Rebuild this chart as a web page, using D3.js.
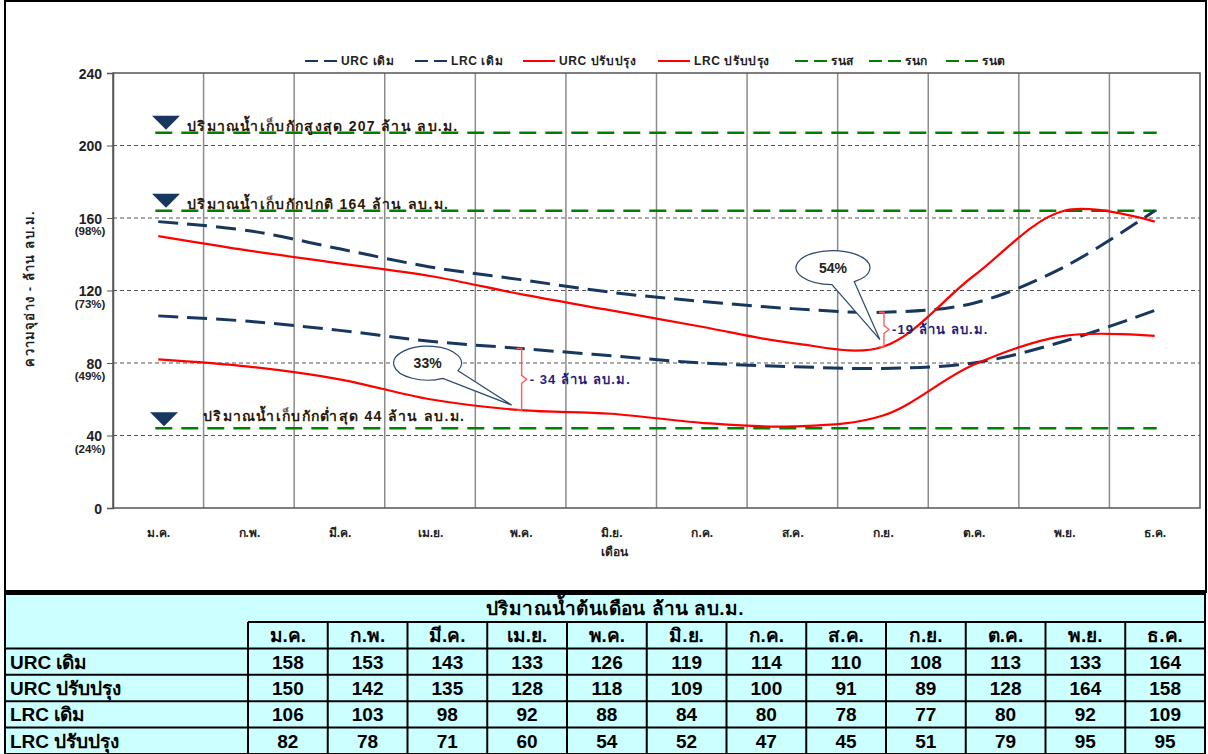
<!DOCTYPE html>
<html>
<head>
<meta charset="utf-8">
<script src="https://cdn.jsdelivr.net/npm/d3@7"></script>
<style>
  html, body { margin: 0; padding: 0; background: #fff; }
  svg { display: block; font-family: Tahoma, Arial, "Liberation Sans", sans-serif; }
</style>
</head>
<body>
<svg id="chart" width="1208" height="754"></svg>
<script>
// Monthly reservoir rule curves (million m³)
const months = ["ม.ค.", "ก.พ.", "มี.ค.", "เม.ย.", "พ.ค.", "มิ.ย.", "ก.ค.", "ส.ค.", "ก.ย.", "ต.ค.", "พ.ย.", "ธ.ค."];
const urcOld = [158, 153, 143, 133, 126, 119, 114, 110, 108, 113, 133, 164];
const urcNew = [150, 142, 135, 128, 118, 109, 100, 91, 89, 128, 164, 158];
const lrcOld = [106, 103, 98, 92, 88, 84, 80, 78, 77, 80, 92, 109];
const lrcNew = [82, 78, 71, 60, 54, 52, 47, 45, 51, 79, 95, 95];

// Storage levels: max, normal, min
const levelNames = ["รนส", "รนก", "รนต"];
const levelValues = [207, 164, 44];
const levelTexts = [
  "ปริมาณน้ำเก็บกักสูงสุด  207  ล้าน ลบ.ม.",
  "ปริมาณน้ำเก็บกักปกติ  164  ล้าน ลบ.ม.",
  "ปริมาณน้ำเก็บกักต่ำสุด 44  ล้าน ลบ.ม."
];

const yTicks = [0, 40, 80, 120, 160, 200, 240];
const pctTicks = [160, 120, 80, 40];
const pctLabels = ["(98%)", "(73%)", "(49%)", "(24%)"];

// Rule-curve differences highlighted on the chart
const gapMonths = ["พ.ค.", "ก.ย."];
const gapLabels = ["- 34 ล้าน ลบ.ม.", "-19 ล้าน ลบ.ม."];
const gapCallouts = ["33%", "54%"];

const tableTitle = "ปริมาณน้ำต้นเดือน ล้าน ลบ.ม.";
const seriesNames = ["URC เดิม", "URC ปรับปรุง", "LRC เดิม", "LRC ปรับปรุง"];

const NAVY = "#17375e";
const RED = "#ff0000";
const GREEN = "#008000";

const svg = d3.select("#chart");

// ---- outer frame ----
svg.append("rect").attr("x", 5).attr("y", 1).attr("width", 1201).attr("height", 591)
  .attr("fill", "#fff").attr("stroke", "#000").attr("stroke-width", 2);

// ---- scales ----
const pL = 113, pR = 1200, pT = 73, pB = 508;
const x = d3.scalePoint().domain(months).range([pL, pR]).padding(0.5);
const y = d3.scaleLinear().domain([0, 240]).range([pB, pT]);
const step = x.step();

const plot = svg.append("g");

// horizontal dashed gridlines
plot.selectAll("line.hgrid").data(yTicks.filter(v => v > 0 && v < 240)).join("line")
  .attr("x1", pL).attr("x2", pR)
  .attr("y1", d => y(d)).attr("y2", d => y(d))
  .attr("stroke", "#555").attr("stroke-width", 1).attr("stroke-dasharray", "4,3");

// vertical gridlines at month boundaries
plot.selectAll("line.vgrid").data(d3.range(1, months.length)).join("line")
  .attr("x1", i => pL + i * step).attr("x2", i => pL + i * step)
  .attr("y1", pT).attr("y2", pB)
  .attr("stroke", "#8c8c8c").attr("stroke-width", 1.5);

// plot border
plot.append("rect").attr("x", pL).attr("y", pT).attr("width", pR - pL).attr("height", pB - pT)
  .attr("fill", "none").attr("stroke", "#555").attr("stroke-width", 1.5);

// storage level lines
const lvl = plot.append("g");
lvl.selectAll("line").data(levelValues).join("line")
  .attr("x1", x(months[0]) - 3).attr("x2", x(months[months.length - 1]) + 2)
  .attr("y1", d => y(d)).attr("y2", d => y(d))
  .attr("stroke", GREEN).attr("stroke-width", 2.6).attr("stroke-dasharray", "17,9");

// ---- curves ----
const line = d3.line()
  .x((d, i) => x(months[i]))
  .y(d => y(d))
  .curve(d3.curveCatmullRom.alpha(0.5));

const series = [
  { values: urcOld, color: NAVY, dash: "20,9", width: 3 },
  { values: lrcOld, color: NAVY, dash: "20,9", width: 3 },
  { values: urcNew, color: RED, dash: null, width: 2.2 },
  { values: lrcNew, color: RED, dash: null, width: 2.2 }
];
plot.selectAll("path.series").data(series).join("path")
  .attr("fill", "none")
  .attr("d", d => line(d.values))
  .attr("stroke", d => d.color)
  .attr("stroke-width", d => d.width)
  .attr("stroke-dasharray", d => d.dash);

// ---- level markers and labels ----
const markerDx = [166, 166, 164];
const textDx = [187, 187, 203];
const textDy = [-2, -2, -7];
levelValues.forEach((v, i) => {
  const cx = markerDx[i];
  const tipY = v === 44 ? y(v) - 2 : y(v) - 3;
  svg.append("path")
    .attr("d", `M${cx - 14},${tipY - 14} L${cx + 14},${tipY - 14} L${cx},${tipY} Z`)
    .attr("fill", NAVY);
  svg.append("text").attr("x", textDx[i]).attr("y", y(v) + textDy[i])
    .attr("font-size", 14).attr("font-weight", "bold").attr("fill", "#2a1a08")
    .attr("letter-spacing", 1.3)
    .text(levelTexts[i]);
});

// ---- y axis ----
const yAxis = svg.append("g").attr("transform", `translate(${pL},0)`)
  .call(d3.axisLeft(y).tickValues(yTicks).tickSize(6).tickPadding(5));
yAxis.select(".domain").attr("stroke", "#555").attr("stroke-width", 1.5);
yAxis.selectAll(".tick line").attr("stroke", "#555");
yAxis.selectAll(".tick text").attr("font-size", 14).attr("font-weight", "bold")
  .attr("fill", "#222").attr("font-family", "Arial, 'Liberation Sans', sans-serif")
  .attr("dy", "0.36em");

svg.append("g").selectAll("text").data(pctTicks).join("text")
  .attr("x", 90).attr("y", d => y(d) + 17)
  .attr("text-anchor", "middle").attr("font-size", 11.5).attr("font-weight", "bold")
  .attr("fill", "#222").attr("font-family", "Arial, 'Liberation Sans', sans-serif")
  .text((d, i) => pctLabels[i]);

svg.append("text")
  .attr("transform", `translate(34,${(pT + pB) / 2 - 2}) rotate(-90)`)
  .attr("text-anchor", "middle").attr("font-size", 13).attr("font-weight", "bold").attr("fill", "#222")
  .attr("letter-spacing", 1.2)
  .text("ความจุอ่าง - ล้าน ลบ.ม.");

// ---- x axis ----
const xAxis = svg.append("g").attr("transform", `translate(0,${pB})`)
  .call(d3.axisBottom(x).tickSize(0).tickPadding(20));
xAxis.select(".domain").remove();
xAxis.selectAll(".tick text").attr("font-size", 12).attr("font-weight", "bold").attr("fill", "#222")
  .attr("font-family", "Tahoma, Arial, sans-serif");

svg.append("text").attr("x", x("มิ.ย.") + 3).attr("y", 556)
  .attr("text-anchor", "middle").attr("font-size", 12).attr("font-weight", "bold").attr("fill", "#222")
  .text("เดือน");

// ---- legend ----
const legendItems = [
  { name: "URC เดิม", color: NAVY, dash: "13,6" },
  { name: "LRC เดิม", color: NAVY, dash: "13,6" },
  { name: "URC ปรับปรุง", color: RED, dash: null },
  { name: "LRC ปรับปรุง", color: RED, dash: null },
  { name: levelNames[0], color: GREEN, dash: "13,6" },
  { name: levelNames[1], color: GREEN, dash: "13,6" },
  { name: levelNames[2], color: GREEN, dash: "13,6" }
];
const legendX = [305, 415, 523, 658, 795, 869, 946];
const legend = svg.append("g");
const ly = 61;
legendItems.forEach((it, k) => {
  const lx = legendX[k];
  legend.append("line").attr("x1", lx).attr("x2", lx + 32).attr("y1", ly).attr("y2", ly)
    .attr("stroke", it.color).attr("stroke-width", 2).attr("stroke-dasharray", it.dash);
  legend.append("text").attr("x", lx + 36).attr("y", ly + 4)
    .attr("font-size", 12).attr("font-weight", "bold").attr("fill", "#222")
    .attr("letter-spacing", 0.6).text(it.name);
});

// ---- rule-curve differences ----
const gapPairs = [[lrcOld, lrcNew], [urcOld, urcNew]];
const calloutOffsets = [[-84, -42], [-47, -72]];
const tipOffsets = [[-9, -5], [-3, -7]];
const ellipseR = [[34, 17], [37, 17]];
gapMonths.forEach((m, k) => {
  const i = months.indexOf(m);
  const xc = x(m) + 1;
  const y1 = y(gapPairs[k][0][i]);
  const y2 = y(gapPairs[k][1][i]);
  const ym = (y1 + y2) / 2;
  svg.append("path")
    .attr("d", `M${xc - 5},${y1} L${xc},${y1} L${xc},${ym - 4} L${xc + 5},${ym} L${xc},${ym + 4} L${xc},${y2} L${xc - 5},${y2}`)
    .attr("fill", "none").attr("stroke", "#ff5a5a").attr("stroke-width", 1.4);
  svg.append("text").attr("x", xc + 8).attr("y", ym + 5)
    .attr("font-size", 13).attr("font-weight", "bold").attr("fill", "#1f1f7a")
    .attr("letter-spacing", 1.1)
    .text(gapLabels[k]);

  // speech-bubble callout
  const tx = x(m) + tipOffsets[k][0];
  const ty = y2 + tipOffsets[k][1];
  const ex = tx + calloutOffsets[k][0];
  const ey = ty + calloutOffsets[k][1];
  const [rx, ry] = ellipseR[k];
  const ang = Math.atan2((ty - ey) / ry, (tx - ex) / rx);
  const a1 = ang - 0.32, a2 = ang + 0.32;
  const p1 = [ex + rx * Math.cos(a1), ey + ry * Math.sin(a1)];
  const p2 = [ex + rx * Math.cos(a2), ey + ry * Math.sin(a2)];
  const g = svg.append("g");
  g.append("path")
    .attr("d", `M${p1[0]},${p1[1]} L${tx},${ty} L${p2[0]},${p2[1]} A${rx},${ry} 0 1 1 ${p1[0]},${p1[1]} Z`)
    .attr("fill", "#fff").attr("stroke", "#2c4a6e").attr("stroke-width", 1.2);
  g.append("text").attr("x", ex).attr("y", ey + 5).attr("text-anchor", "middle")
    .attr("font-size", 14).attr("font-weight", "bold").attr("fill", "#222")
    .attr("font-family", "Arial, 'Liberation Sans', sans-serif")
    .text(gapCallouts[k]);
});

// ---- data table ----
const tX0 = 5, tX1 = 1205, tColX = 248;
const colW = (tX1 - tColX) / months.length;
const tY0 = 594, tHead = 622, tY1 = 754;
const rowH = (tY1 - tHead) / 5;
const tbl = svg.append("g");
tbl.append("line").attr("x1", 5).attr("x2", 1206).attr("y1", 591).attr("y2", 591)
  .attr("stroke", "#000").attr("stroke-width", 2);
tbl.append("rect").attr("x", tX0).attr("y", tY0).attr("width", tX1 - tX0).attr("height", tY1 - tY0)
  .attr("fill", "#ccffff").attr("stroke", "#000").attr("stroke-width", 2);
tbl.append("text").attr("x", 615).attr("y", tY0 + 21).attr("text-anchor", "middle")
  .attr("font-size", 19).attr("font-weight", "bold").attr("fill", "#000")
  .attr("letter-spacing", 0.4)
  .attr("font-family", "Arial, 'Liberation Sans', sans-serif")
  .text(tableTitle);
// horizontal rules
tbl.append("line").attr("x1", tColX).attr("x2", tX1).attr("y1", tHead).attr("y2", tHead)
  .attr("stroke", "#000").attr("stroke-width", 2);
tbl.selectAll("line.hrow").data(d3.range(1, 5)).join("line")
  .attr("x1", tX0).attr("x2", tX1)
  .attr("y1", r => tHead + r * rowH).attr("y2", r => tHead + r * rowH)
  .attr("stroke", "#000").attr("stroke-width", 2);
// vertical rules
tbl.selectAll("line.vcol").data(d3.range(0, months.length)).join("line")
  .attr("x1", c => tColX + c * colW).attr("x2", c => tColX + c * colW)
  .attr("y1", tHead).attr("y2", tY1)
  .attr("stroke", "#000").attr("stroke-width", 2);
// header cells
tbl.selectAll("text.mh").data(months).join("text")
  .attr("x", (d, c) => tColX + (c + 0.5) * colW).attr("y", tHead + rowH / 2 + 7)
  .attr("text-anchor", "middle").attr("font-size", 19).attr("font-weight", "bold").attr("fill", "#000")
  .attr("font-family", "Arial, 'Liberation Sans', sans-serif")
  .text(d => d);
// body rows
const tableRows = [urcOld, urcNew, lrcOld, lrcNew];
tableRows.forEach((vals, r) => {
  const cy = tHead + (r + 1.5) * rowH + 7;
  tbl.append("text").attr("x", 10).attr("y", cy)
    .attr("font-size", 19).attr("font-weight", "bold").attr("fill", "#000")
    .attr("font-family", "Arial, 'Liberation Sans', sans-serif")
    .text(seriesNames[r]);
  tbl.selectAll(null).data(vals).join("text")
    .attr("x", (d, c) => tColX + (c + 0.5) * colW).attr("y", cy)
    .attr("text-anchor", "middle").attr("font-size", 19).attr("font-weight", "bold").attr("fill", "#000")
    .attr("font-family", "Arial, 'Liberation Sans', sans-serif")
    .text(d => d);
});
</script>
</body>
</html>
